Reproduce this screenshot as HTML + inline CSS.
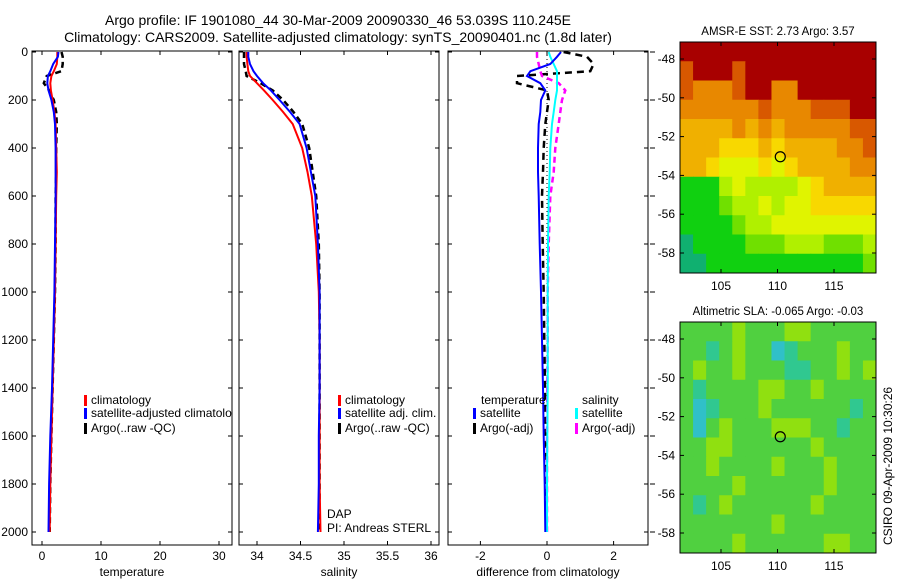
<!DOCTYPE html>
<html><head><meta charset="utf-8"><style>
html,body{margin:0;padding:0;background:#fff;}
svg{display:block;font-family:"Liberation Sans",sans-serif;}
text{font-size:12px;fill:#000;}
</style></head><body>
<svg id="fig" width="900" height="580" xmlns="http://www.w3.org/2000/svg">
<text x="338" y="25" text-anchor="middle" style="font-size:14px">Argo profile: IF 1901080_44 30-Mar-2009 20090330_46 53.039S 110.245E</text>
<text x="338" y="42" text-anchor="middle" style="font-size:14px">Climatology: CARS2009. Satellite-adjusted climatology: synTS_20090401.nc (1.8d later)</text>
<g id="panels"></g>
<text transform="translate(892,545) rotate(-90)" style="font-size:12px">CSIRO 09-Apr-2009 10:30:26</text>
</svg>
<script>
// ---- profile data ----
const depths = [0,20,50,80,100,130,160,200,250,300,400,500,600,800,1000,1200,1400,1600,1800,2000];
const tempClim = [2.6,2.6,2.5,2.0,1.6,1.4,1.5,1.8,2.1,2.3,2.4,2.5,2.4,2.3,2.2,2.0,1.8,1.6,1.4,1.3];
const tempSat  = [2.8,2.7,1.9,1.4,1.0,0.9,1.1,1.6,2.0,2.2,2.3,2.3,2.3,2.2,2.1,1.9,1.7,1.4,1.2,1.1];
const tempArgo = [3.3,3.5,3.5,3.3,0.8,0.3,1.2,2.0,2.4,2.5,2.4,2.4,2.3,2.3,2.2,2.0,1.8,1.6,1.4,1.3];
const salClim = [33.88,33.88,33.89,33.9,33.92,34.0,34.08,34.18,34.3,34.41,34.52,34.58,34.63,34.68,34.71,34.72,34.72,34.72,34.72,34.73];
const salSat  = [33.9,33.9,33.92,33.96,34.0,34.07,34.16,34.26,34.38,34.49,34.57,34.62,34.67,34.7,34.72,34.72,34.72,34.71,34.71,34.7];
const salArgo = [33.85,33.85,33.85,33.87,33.88,34.04,34.18,34.3,34.42,34.52,34.6,34.64,34.68,34.71,34.72,34.72,34.72,34.72,34.72,34.72];
const dTempSat  = [0.42,0.3,0.1,-0.5,-0.6,-0.2,-0.05,-0.18,-0.2,-0.25,-0.27,-0.27,-0.25,-0.22,-0.18,-0.15,-0.12,-0.1,-0.07,-0.05];
const dTempArgo = [0.5,1.2,1.4,1.3,-0.9,-0.9,0.0,0.05,0.0,-0.05,-0.1,-0.12,-0.15,-0.13,-0.1,-0.08,-0.06,-0.04,-0.03,-0.02];
const dSalSat   = [0.05,0.1,0.2,0.3,0.3,0.3,0.3,0.25,0.2,0.15,0.1,0.08,0.05,0.03,0.02,0.02,0.02,0.01,0.0,0.0];
const dSalArgo  = [-0.3,-0.3,-0.25,-0.2,-0.15,0.35,0.55,0.45,0.4,0.35,0.25,0.2,0.1,0.05,0.02,0.02,0.01,0.0,0.0,0.0];
const depthTicks = [0,200,400,600,800,1000,1200,1400,1600,1800,2000];
const tempTicks = [0,10,20,30];
const salTicks = [34,34.5,35,35.5,36];
const salTickLabels = ["34","34.5","35","35.5","36"];
const diffTicks = [-2,0,2];
// ---- map data ----
const sstGrid = [
"999999999999999","899989999999999","877789977999999","777777877788899","666676767777788",
"666555656666778","665444545666677","111343333456666","111233434455555","111123344444444",
"011112223332223","001111111111112"];
const slaGrid = [
"222232223322222","221232201222322","232232221122323","212222332232222","201222322222212",
"202322233322122","223322222232222","223222232223222","222232222223222","212322222232222",
"222222232222222","222232222223322"];
const sstLatTicks = [-48,-50,-52,-54,-56,-58];
const lonTicks = [105,110,115];
const floatLon = [110.245];
const floatLat = [-53.039];

const NS="http://www.w3.org/2000/svg";
const root=document.getElementById('panels');
function mk(tag,attrs,parent){const e=document.createElementNS(NS,tag);for(const k in attrs)e.setAttribute(k,attrs[k]);(parent||root).appendChild(e);return e;}
const yD=d=>52+0.24*d;
const Y0=51,Y1=545;

function panel(name,x0,x1,xs,ticks,labels,xlabel,showY){
  const g=mk('g',{});
  
  
  const r=mk('rect',{x:x0,y:Y0,width:x1-x0,height:Y1-Y0,fill:'#fff',stroke:'#000','stroke-width':1},g);
  
  
  ticks.forEach((t,i)=>{const x=xs(t);
    mk('line',{x1:x,x2:x,y1:Y1,y2:Y1-4,stroke:'#000'},g);
    mk('line',{x1:x,x2:x,y1:Y0,y2:Y0+4,stroke:'#000'},g);
    const tx=mk('text',{x:x,y:Y1+15,'text-anchor':'middle'},g);tx.textContent=labels[i];
    
    });
  depthTicks.forEach(d=>{const y=yD(d);
    mk('line',{x1:x0,x2:x0+4,y1:y,y2:y,stroke:'#000'},g);
    mk('line',{x1:x1,x2:x1-4,y1:y,y2:y,stroke:'#000'},g);
    if(showY){const t=mk('text',{x:x0-4,y:y+4,'text-anchor':'end'},g);t.textContent=d;
      
      }});
  const xl=mk('text',{x:(x0+x1)/2,y:Y1+31,'text-anchor':'middle'},g);xl.textContent=xlabel;
  
  
  return g;
}
function line(g,vals,xs,color,w,dash,name){
  const pts=vals.map((v,i)=>xs(v).toFixed(1)+','+yD(depths[i]).toFixed(1)).join(' ');
  const p=mk('polyline',{points:pts,fill:'none',stroke:color,'stroke-width':w},g);
  if(dash)p.setAttribute('stroke-dasharray',dash);
  
  
}
function legend(g,x,y,color,label,name){
  mk('rect',{x:x,y:y-9,width:3,height:11,fill:color},g);
  const t=mk('text',{x:x+7,y:y},g);t.textContent=label;
  
  
}
// panel 1
const xT=v=>42+5.9*v;
const g1=panel('temperature-panel',32,232,xT,tempTicks,tempTicks.map(String),'temperature',true);
line(g1,tempArgo,xT,'#000',2.5,'6,4','argo-temperature-line');
line(g1,tempClim,xT,'#f00',2,null,'climatology-temperature-line');
line(g1,tempSat,xT,'#00f',2,null,'satellite-temperature-line');
legend(g1,84,404,'#f00','climatology','legend-climatology');
legend(g1,84,417,'#00f','satellite-adjusted climatolo','legend-satellite');
legend(g1,84,432,'#000','Argo(..raw -QC)','legend-argo');
// panel 2
const xS=v=>257+87*(v-34);
const g2=panel('salinity-panel',239,439,xS,salTicks,salTickLabels,'salinity',false);
line(g2,salArgo,xS,'#000',2.5,'6,4','argo-salinity-line');
line(g2,salClim,xS,'#f00',2,null,'climatology-salinity-line');
line(g2,salSat,xS,'#00f',2,null,'satellite-salinity-line');
legend(g2,338,404,'#f00','climatology','legend-climatology-sal');
legend(g2,338,417,'#00f','satellite adj. clim.','legend-satellite-sal');
legend(g2,338,432,'#000','Argo(..raw -QC)','legend-argo-sal');
const dap=mk('text',{x:327,y:518},g2);dap.textContent='DAP';


const pi=mk('text',{x:327,y:532},g2);pi.textContent='PI: Andreas STERL';


// panel 3
const xDf=v=>547+33.3*v;
const g3=panel('difference-panel',448,648,xDf,diffTicks,diffTicks.map(String),'difference from climatology',false);
depthTicks.forEach(d=>mk('line',{x1:650,x2:655,y1:yD(d),y2:yD(d),stroke:'#000'},g3));
mk('line',{x1:xDf(0),x2:xDf(0),y1:Y0,y2:yD(2000),stroke:'#000','stroke-dasharray':'1,3'},g3);
line(g3,dTempArgo,xDf,'#000',2.5,'7,5','argo-temp-diff-line');
line(g3,dSalArgo,xDf,'#f0f',2.5,'6,4','argo-sal-diff-line');
line(g3,dSalSat,xDf,'#0ff',2,null,'satellite-sal-diff-line');
line(g3,dTempSat,xDf,'#00f',2,null,'satellite-temp-diff-line');
const tt=mk('text',{x:481,y:404},g3);tt.textContent='temperature';


const st=mk('text',{x:582,y:404},g3);st.textContent='salinity';


legend(g3,473,417,'#00f','satellite','legend-temp-satellite');
legend(g3,473,432,'#000','Argo(-adj)','legend-temp-argo');
legend(g3,575,417,'#0ff','satellite','legend-sal-satellite');
legend(g3,575,432,'#f0f','Argo(-adj)','legend-sal-argo');

// maps
const sstPal=['#10b070','#10d010','#70e000','#b0f000','#e0f400','#f8d800','#f0b000','#e88800','#d85800','#a80000'];
const slaPal=['#30c0c8','#30c890','#50d040','#90e010','#b8f000'];
function map(name,top,grid,pal,title){
  const x0=680,x1=876,y1=top+231;
  const lonX=v=>721+11.3*(v-105);
  const latY=v=>(top+17)+19.4*(-48-v);
  const g=mk('g',{});
  
  
  const rows=grid.length,cols=grid[0].length,cw=(x1-x0)/cols,ch=(y1-top)/rows;
  grid.forEach((row,r)=>{for(let c=0;c<cols;c++){
    const cell=mk('rect',{x:x0+c*cw,y:top+r*ch,width:cw+0.5,height:ch+0.5,fill:pal[+row[c]]},g);
    
    }});
  mk('rect',{x:x0,y:top,width:x1-x0,height:y1-top,fill:'none',stroke:'#000'},g);
  sstLatTicks.forEach(v=>{const y=latY(v);
    mk('line',{x1:x0,x2:x0+4,y1:y,y2:y,stroke:'#000'},g);
    mk('line',{x1:x1,x2:x1-4,y1:y,y2:y,stroke:'#000'},g);
    const t=mk('text',{x:x0-5,y:y+4,'text-anchor':'end'},g);t.textContent=v;
    
    });
  lonTicks.forEach(v=>{const x=lonX(v);
    mk('line',{x1:x,x2:x,y1:y1,y2:y1-4,stroke:'#000'},g);
    mk('line',{x1:x,x2:x,y1:top,y2:top+4,stroke:'#000'},g);
    const t=mk('text',{x:x,y:y1+17,'text-anchor':'middle'},g);t.textContent=v;
    
    });
  const c=mk('circle',{cx:lonX(floatLon[0]),cy:latY(floatLat[0]),r:5,fill:'none',stroke:'#000','stroke-width':1.2},g);
  
  
  const t=mk('text',{x:(x0+x1)/2,y:top-7,'text-anchor':'middle',style:'font-size:11.5px'},g);t.textContent=title;
  
  
}
map('sst-map',42,sstGrid,sstPal,'AMSR-E SST: 2.73 Argo: 3.57');
map('sla-map',322,slaGrid,slaPal,'Altimetric SLA: -0.065 Argo: -0.03');
</script>
</body></html>
